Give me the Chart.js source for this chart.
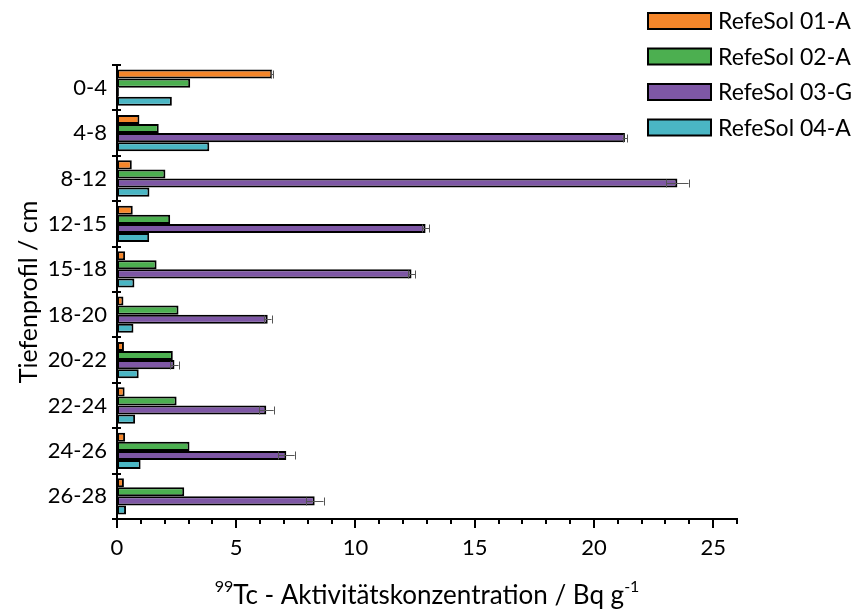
<!DOCTYPE html>
<html>
<head>
<meta charset="utf-8">
<script src="https://cdn.jsdelivr.net/npm/chart.js@4.4.1/dist/chart.umd.min.js"></script>
<style>
  html, body { margin: 0; padding: 0; background: #ffffff; }
  #wrap { position: relative; width: 857px; height: 614px; }
</style>
</head>
<body>
<div id="wrap"><canvas id="c" width="857" height="614"></canvas></div>
<script>
const categories = ['0-4', '4-8', '8-12', '12-15', '15-18', '18-20', '20-22', '22-24', '24-26', '26-28'];
const seriesNames = ['RefeSol 01-A', 'RefeSol 02-A', 'RefeSol 03-G', 'RefeSol 04-A'];
const refesol01 = [6.51, 0.94, 0.62, 0.66, 0.34, 0.27, 0.29, 0.32, 0.34, 0.29];
const refesol02 = [3.07, 1.75, 2.03, 2.23, 1.66, 2.58, 2.34, 2.50, 3.04, 2.82];
const refesol03 = [0.08, 21.30, 23.50, 12.94, 12.35, 6.32, 2.41, 6.26, 7.10, 8.29];
const refesol04 = [2.30, 3.87, 1.36, 1.35, 0.73, 0.69, 0.91, 0.76, 0.99, 0.38];
const err01 = [0.05, 0, 0, 0, 0, 0, 0, 0, 0, 0];
const err02 = [0, 0, 0, 0, 0, 0, 0, 0, 0, 0];
const err03 = [0, 0.10, 0.47, 0.15, 0.15, 0.16, 0.17, 0.31, 0.35, 0.37];
const err04 = [0, 0, 0, 0, 0, 0, 0, 0, 0, 0];
const xTickValues = [0, 5, 10, 15, 20, 25];
const xMin = 0, xMax = 26;
const xTitleParts = [['99', true], ['Tc - Aktivitätskonzentration / Bq g', false], ['-1', true]];
const yTitle = 'Tiefenprofil / cm';

const colors = ['#F5862A', '#4CAF50', '#7E57A5', '#4AB6C4'];
const FONT = 'Lato, "Open Sans", sans-serif';

const values = [refesol01, refesol02, refesol03, refesol04];
const errors = [err01, err02, err03, err04];

const datasets = values.map((v, i) => ({
  label: seriesNames[i],
  data: v,
  backgroundColor: colors[i],
  borderColor: '#000000',
  borderWidth: 2,
  borderSkipped: false,
  categoryPercentage: 0.8,
  barPercentage: 1.0,
  errors: errors[i]
}));

const decorPlugin = {
  id: 'decor',
  afterDatasetsDraw(chart) {
    const ctx = chart.ctx;
    const xs = chart.scales.x;
    ctx.save();
    ctx.strokeStyle = '#555555';
    ctx.lineWidth = 1;
    chart.data.datasets.forEach((ds, di) => {
      const meta = chart.getDatasetMeta(di);
      meta.data.forEach((el, i) => {
        const e = ds.errors[i];
        if (!e) return;
        const v = ds.data[i];
        const x1 = xs.getPixelForValue(v - e);
        const x2 = xs.getPixelForValue(v + e);
        const y = Math.round(el.y) + 0.5;
        const h = 4;
        ctx.beginPath();
        ctx.moveTo(x1, y); ctx.lineTo(x2, y);
        ctx.moveTo(Math.round(x1) + 0.5, y - h); ctx.lineTo(Math.round(x1) + 0.5, y + h);
        ctx.moveTo(Math.round(x2) + 0.5, y - h); ctx.lineTo(Math.round(x2) + 0.5, y + h);
        ctx.stroke();
      });
    });
    ctx.restore();
  },
  afterDraw(chart) {
    const ctx = chart.ctx;
    const xs = chart.scales.x;
    const ys = chart.scales.y;
    const area = chart.chartArea;
    ctx.save();
    ctx.strokeStyle = '#000000';
    ctx.lineWidth = 2;
    // x ticks: minor every 1, major every 5
    for (let v = xMin; v <= xMax; v++) {
      const x = Math.round(xs.getPixelForValue(v));
      const len = (v % 5 === 0) ? 9 : 5;
      ctx.beginPath();
      ctx.moveTo(x, area.bottom);
      ctx.lineTo(x, area.bottom + len);
      ctx.stroke();
    }
    // y ticks at category boundaries, crossing the axis
    const n = categories.length;
    const band = (ys.getPixelForValue(n - 1) - ys.getPixelForValue(0)) / (n - 1);
    for (let i = 0; i <= n; i++) {
      const y = Math.round(ys.getPixelForValue(0) - band / 2 + i * band);
      ctx.beginPath();
      ctx.moveTo(area.left - 5, y);
      ctx.lineTo(area.left + 4, y);
      ctx.stroke();
    }
    // legend
    ctx.font = '23px ' + FONT;
    ctx.textBaseline = 'middle';
    ctx.textAlign = 'left';
    chart.data.datasets.forEach((ds, i) => {
      const cy = 21 + i * 35.5;
      ctx.fillStyle = ds.backgroundColor;
      ctx.fillRect(648, cy - 8, 63, 16);
      ctx.strokeStyle = '#000000';
      ctx.lineWidth = 2;
      ctx.strokeRect(648, cy - 8, 63, 16);
      ctx.fillStyle = '#000000';
      ctx.fillText(ds.label, 718, cy + 1);
    });
    // x title with superscripts
    const big = '26px ' + FONT, small = '16px ' + FONT;
    let total = 0;
    xTitleParts.forEach(([t, sup]) => { ctx.font = sup ? small : big; total += ctx.measureText(t).width; });
    let x = (area.left + area.right) / 2 - total / 2;
    const base = 604;
    ctx.textBaseline = 'alphabetic';
    xTitleParts.forEach(([t, sup]) => {
      ctx.font = sup ? small : big;
      ctx.fillText(t, x, sup ? base - 12 : base);
      x += ctx.measureText(t).width;
    });
    // y title
    ctx.save();
    ctx.translate(37, (area.top + area.bottom) / 2);
    ctx.rotate(-Math.PI / 2);
    ctx.font = '25px ' + FONT;
    ctx.textAlign = 'center';
    ctx.textBaseline = 'alphabetic';
    ctx.fillText(yTitle, 0, 0);
    ctx.restore();
    ctx.restore();
  }
};

new Chart(document.getElementById('c'), {
  type: 'bar',
  data: { labels: categories, datasets },
  options: {
    indexAxis: 'y',
    responsive: false,
    animation: false,
    layout: { padding: { top: 65, right: 120, left: 0, bottom: 0 } },
    plugins: { legend: { display: false }, tooltip: { enabled: false } },
    scales: {
      x: {
        type: 'linear',
        min: xMin, max: xMax,
        afterBuildTicks(scale) { scale.ticks = xTickValues.map(v => ({ value: v })); },
        grid: { display: false, drawTicks: false },
        border: { display: true, color: '#000000', width: 2 },
        ticks: { color: '#000000', font: { family: FONT, size: 22 }, padding: 16, maxRotation: 0, autoSkip: false },
        afterFit(scale) { scale.height = 95; }
      },
      y: {
        type: 'category',
        grid: { display: false, drawTicks: false, offset: true },
        border: { display: true, color: '#000000', width: 2 },
        ticks: { color: '#000000', font: { family: FONT, size: 22 }, padding: 10, autoSkip: false },
        afterFit(scale) { scale.width = 117; }
      }
    }
  },
  plugins: [decorPlugin]
});
</script>
</body>
</html>
